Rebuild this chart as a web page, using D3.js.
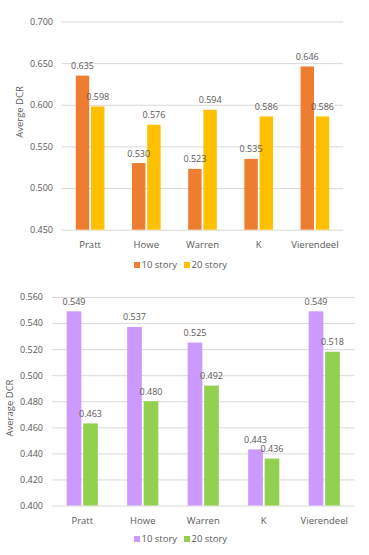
<!DOCTYPE html>
<html><head><meta charset="utf-8">
<script src="https://cdn.jsdelivr.net/npm/d3@7"></script>
<style>
body{margin:0;background:#fff;}
svg{display:block;font-family:"Open Sans",sans-serif;}
.domain{display:none;}
</style></head>
<body><svg id="c" width="369" height="555"></svg>
<script>
const categories = ["Pratt","Howe","Warren","K","Vierendeel"];
const seriesNames = ["10 story","20 story"];
const topTen = [0.635,0.530,0.523,0.535,0.646];
const topTwenty = [0.598,0.576,0.594,0.586,0.586];
const topTicks = [0.450,0.500,0.550,0.600,0.650,0.700];
const botTen = [0.549,0.537,0.525,0.443,0.549];
const botTwenty = [0.463,0.480,0.492,0.436,0.518];
const botTicks = [0.400,0.420,0.440,0.460,0.480,0.500,0.520,0.540,0.560];

const svg = d3.select("#c");
const txt = "#595959";

function chart(cfg){
  const g = svg.append("g");
  const y = d3.scaleLinear().domain(cfg.domain).range([cfg.bottom, cfg.top]);
  const x0 = d3.scaleBand().domain(categories).range([cfg.left, cfg.right]).paddingInner(cfg.pad).paddingOuter(cfg.pad/2);
  const x1 = d3.scaleBand().domain(seriesNames).range([0, x0.bandwidth()]).paddingInner(cfg.inner);
  // grid + y labels
  const ya = g.append("g").attr("transform",`translate(${cfg.left},0)`)
    .call(d3.axisLeft(y).tickValues(cfg.ticks).tickFormat(d3.format(".3f")).tickSize(-(cfg.right-cfg.left)).tickPadding(cfg.tickPad));
  ya.selectAll("line").attr("stroke","#d9d9d9");
  ya.selectAll("text").attr("fill",txt).attr("font-size","9px").attr("font-family","Open Sans");
  // x labels
  const xa = g.append("g").attr("transform",`translate(0,${cfg.bottom})`)
    .call(d3.axisBottom(x0).tickSize(0).tickPadding(cfg.xPad));
  xa.selectAll("text").attr("fill",txt).attr("font-size","9.5px").attr("font-family","Open Sans");
  // bars
  const data = categories.map((c,i)=>({c, vals:[{s:seriesNames[0],v:cfg.a[i]},{s:seriesNames[1],v:cfg.b[i]}]}));
  const grp = g.selectAll(".grp").data(data).join("g").attr("transform",d=>`translate(${x0(d.c)},0)`);
  grp.selectAll("rect").data(d=>d.vals).join("rect")
    .attr("x",d=>x1(d.s)).attr("width",x1.bandwidth())
    .attr("y",d=>y(d.v)).attr("height",d=>y(cfg.domain[0])-y(d.v))
    .attr("fill",(d,i)=>cfg.colors[i]);
  grp.selectAll("text.lbl").data(d=>d.vals).join("text").attr("class","lbl")
    .attr("x",d=>x1(d.s)+x1.bandwidth()/2).attr("y",d=>y(d.v)-6.5)
    .attr("text-anchor","middle").attr("fill",txt).attr("font-size","9px")
    .text(d=>d3.format(".3f")(d.v));
  // y title
  g.append("text").attr("transform",`translate(${cfg.titleX},${cfg.titleY}) rotate(-90)`)
    .attr("text-anchor","middle").attr("fill",txt).attr("font-size","9.5px").text(cfg.title);
  // legend
  const lg = g.append("g").attr("transform",`translate(0,${cfg.legendY})`);
  const lx = [134,184];
  seriesNames.forEach((s,i)=>{
    lg.append("rect").attr("x",lx[i]).attr("y",-3).attr("width",6).attr("height",6).attr("fill",cfg.colors[i]);
    lg.append("text").attr("x",lx[i]+7.5).attr("y",3.3).attr("fill",txt).attr("font-size","9.5px").text(s);
  });
}

chart({domain:[0.450,0.700], ticks:topTicks, top:21.5, bottom:229.7, left:62, right:343, pad:0.49, inner:0.12,
  tickPad:9, xPad:12, a:topTen, b:topTwenty, colors:["#ED7D31","#FFC000"],
  title:"Averge DCR", titleX:23, titleY:112, legendY:265});
chart({domain:[0.400,0.560], ticks:botTicks, top:297, bottom:505.5, left:52, right:354.5, pad:0.485, inner:0.11,
  tickPad:9, xPad:12, a:botTen, b:botTwenty, colors:["#CC99FF","#92D050"],
  title:"Average DCR", titleX:13, titleY:408, legendY:539});
</script></body></html>
